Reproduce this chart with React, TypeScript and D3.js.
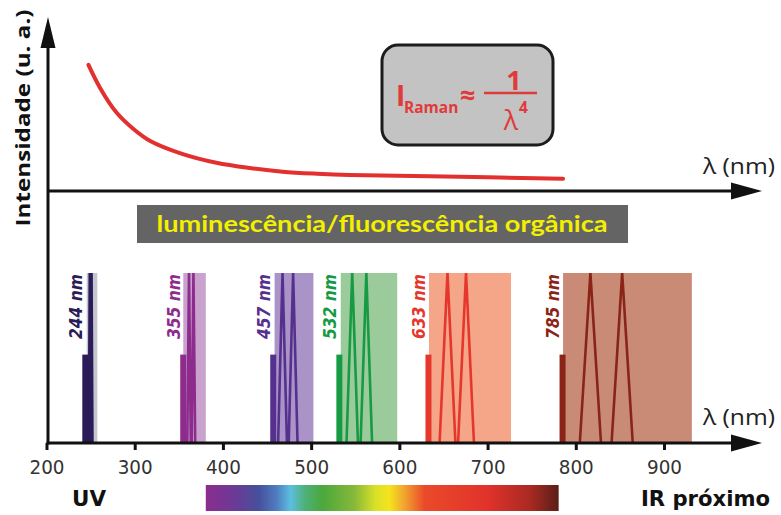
import React from "react";
import * as d3 from "d3";

// ---- data ----
const ticks = [200, 300, 400, 500, 600, 700, 800, 900];

const curveWavelength = [247, 260, 279, 298, 317, 354, 392, 430, 467, 506, 543, 634, 785];
const curveIntensity = [78.8, 64.6, 48.9, 38.8, 31.3, 23.1, 17.7, 14.4, 12.1, 10.8, 10, 9.2, 7.7];

const laserWavelength = [244, 355, 457, 532, 633, 785];
const laserLabel = ["244 nm", "355 nm", "457 nm", "532 nm", "633 nm", "785 nm"];
const laserRelIntensity = [0.52, 0.52, 0.52, 0.52, 0.52, 0.52];
const bandStart = [245, 354.5, 458, 533, 633, 785];
const bandEnd = [257, 380, 502, 597, 726, 931];
const peakA = [248.5, 361, 467, 546, 654, 816];
const peakB = [250.5, 366, 479, 562, 675, 852];
const peakHalfWidth = [1, 2, 5, 6.5, 9, 12];

const laserColor = ["#2b1b59", "#8d2c8c", "#56308f", "#169a44", "#e5372c", "#8a2419"];
const bandColor = ["#c3c5cf", "#c9a3cd", "#a993c7", "#9ccb9b", "#f5a588", "#c98b76"];

const spectrumStops: [number, string][] = [
  [380, "#8b2d8e"], [412, "#6c3a96"], [440, "#46509c"], [460, "#4f7cc0"], [476, "#5bbfe0"],
  [492, "#4fb07a"], [512, "#4aa83c"], [548, "#86b83a"], [572, "#d8e028"], [588, "#f4e41c"],
  [604, "#f2a830"], [628, "#ea4a2a"], [700, "#e0322a"], [748, "#a82a22"], [780, "#5a1e18"],
];

export default function App() {
  const W = 781, H = 515;
  const x = d3.scaleLinear().domain([200, 900]).range([47, 664.5]);
  const yTop = d3.scaleLinear().domain([0, 100]).range([191, 31]);
  const yBot = d3.scaleLinear().domain([0, 1]).range([443, 273]);
  const axisX = 48;
  const topAxisY = 191;
  const botAxisY = 443;
  const arrowEnd = 762;

  const line = d3
    .line<number>()
    .x((_, i) => x(curveWavelength[i]))
    .y((d) => yTop(d))
    .curve(d3.curveCatmullRom.alpha(0.5));
  const curvePath = line(curveIntensity) || "";

  const peakLine = d3
    .line<[number, number]>()
    .x((d) => x(d[0]))
    .y((d) => yBot(d[1]));

  const specLeft = x(spectrumStops[0][0]);
  const specRight = x(spectrumStops[spectrumStops.length - 1][0]);

  const condensed = "'Liberation Sans Narrow', 'DejaVu Sans Condensed', 'Open Sans', sans-serif";

  return (
    <svg width={W} height={H} style={{ position: "absolute", left: 0, top: 0, background: "#fff" }}
      fontFamily="'Open Sans', sans-serif">
      <defs>
        <linearGradient id="spec" x1="0" x2="1" y1="0" y2="0">
          {spectrumStops.map(([w, c], i) => (
            <stop key={i} offset={(x(w) - specLeft) / (specRight - specLeft)} stopColor={c} />
          ))}
        </linearGradient>
      </defs>

      {/* fluorescence bands */}
      {laserWavelength.map((w, i) => (
        <rect key={"b" + i} x={x(bandStart[i])} y={yBot(1)} width={x(bandEnd[i]) - x(bandStart[i])}
          height={yBot(0) - yBot(1)} fill={bandColor[i]} />
      ))}
      {/* raman peaks */}
      {laserWavelength.map((w, i) => (
        <path key={"p" + i}
          d={
            (peakLine([[peakA[i] - peakHalfWidth[i], 0], [peakA[i], 1], [peakA[i] + peakHalfWidth[i], 0]]) || "") +
            (peakLine([[peakB[i] - peakHalfWidth[i], 0], [peakB[i], 1], [peakB[i] + peakHalfWidth[i], 0]]) || "")
          }
          fill="none" stroke={laserColor[i]} strokeWidth={2.6} strokeLinejoin="miter" />
      ))}
      {/* laser lines */}
      {laserWavelength.map((w, i) => (
        <rect key={"l" + i} x={x(w) - 3.5} y={yBot(laserRelIntensity[i])} width={6}
          height={yBot(0) - yBot(laserRelIntensity[i])} fill={laserColor[i]} />
      ))}
      {/* laser labels */}
      {laserWavelength.map((w, i) => (
        <text key={"t" + i} transform={`translate(${x(w) - 4},${yBot(1) + 1}) rotate(-90)`}
          textAnchor="end" fontSize={18.5} fontWeight={700} fontStyle="italic" fill={laserColor[i]}
          fontFamily={condensed} textLength={65} lengthAdjust="spacingAndGlyphs">
          {laserLabel[i]}
        </text>
      ))}

      {/* red curve */}
      <path d={curvePath} fill="none" stroke="#e2302f" strokeWidth={4} strokeLinecap="round" />

      {/* formula box */}
      <rect x={382} y={45} width={171} height={100} rx={16} ry={16} fill="#c3c3c3" stroke="#1c1c1c" strokeWidth={3} />
      <g fill="#e03a3a" fontWeight={700}>
        <text x={396} y={106} fontSize={28}>I</text>
        <text x={404} y={113} fontSize={15.5}>Raman</text>
        <text x={460} y={105} fontSize={27}>≈</text>
        <text x={514} y={90} fontSize={27} textAnchor="middle">1</text>
        <text x={511} y={130} fontSize={27} fontWeight={400} textAnchor="middle">λ</text>
        <text x={519} y={113} fontSize={15.5}>4</text>
      </g>
      <line x1={484} x2={537} y1={93} y2={93} stroke="#e03a3a" strokeWidth={2.5} />

      {/* band label */}
      <rect x={137} y={205} width={491} height={38} fill="#646464" />
      <text x={382} y={232} textAnchor="middle" fontSize={22} fontWeight={700} fill="#f2f000"
        fontFamily="Lato, 'Open Sans', sans-serif" textLength={451} lengthAdjust="spacingAndGlyphs">
        luminescência/fluorescência orgânica
      </text>

      {/* axes */}
      <g stroke="#111" strokeWidth={3}>
        <line x1={axisX} x2={axisX} y1={40} y2={botAxisY + 1.5} />
        <line x1={axisX} x2={arrowEnd - 25} y1={topAxisY} y2={topAxisY} />
        <line x1={axisX - 1.5} x2={arrowEnd - 25} y1={botAxisY} y2={botAxisY} />
        {ticks.map((t) => (
          <line key={t} x1={x(t)} x2={x(t)} y1={botAxisY} y2={botAxisY + 7} />
        ))}
      </g>
      <g fill="#111">
        <path d={`M${axisX},17 L${axisX + 7.5},48 L${axisX - 7.5},48 Z`} />
        <path d={`M${arrowEnd},${topAxisY} L${arrowEnd - 31},${topAxisY - 8.5} L${arrowEnd - 31},${topAxisY + 8.5} Z`} />
        <path d={`M${arrowEnd},${botAxisY} L${arrowEnd - 31},${botAxisY - 8.5} L${arrowEnd - 31},${botAxisY + 8.5} Z`} />
      </g>

      {/* tick labels */}
      {ticks.map((t) => (
        <text key={"tl" + t} x={x(t)} y={474} textAnchor="middle" fontSize={20} fill="#333"
          fontFamily={condensed} textLength={35} lengthAdjust="spacingAndGlyphs">{t}</text>
      ))}

      {/* axis labels */}
      <text x={703} y={174} fontSize={22} fill="#222" textLength={72} lengthAdjust="spacingAndGlyphs">λ (nm)</text>
      <text x={703} y={425} fontSize={22} fill="#222" textLength={72} lengthAdjust="spacingAndGlyphs">λ (nm)</text>
      <text transform="translate(30,118) rotate(-90)" textAnchor="middle" fontSize={19} fontWeight={700}
        fill="#111" textLength={217} lengthAdjust="spacingAndGlyphs">Intensidade (u. a.)</text>

      {/* spectrum */}
      <rect x={specLeft} y={485} width={specRight - specLeft} height={26} fill="url(#spec)" />
      <text x={72} y={506} fontSize={21} fontWeight={700} fill="#111" fontFamily={condensed}
        textLength={34} lengthAdjust="spacingAndGlyphs">UV</text>
      <text x={641} y={506} fontSize={21} fontWeight={700} fill="#111" fontFamily={condensed}
        textLength={129} lengthAdjust="spacingAndGlyphs">IR próximo</text>
    </svg>
  );
}
